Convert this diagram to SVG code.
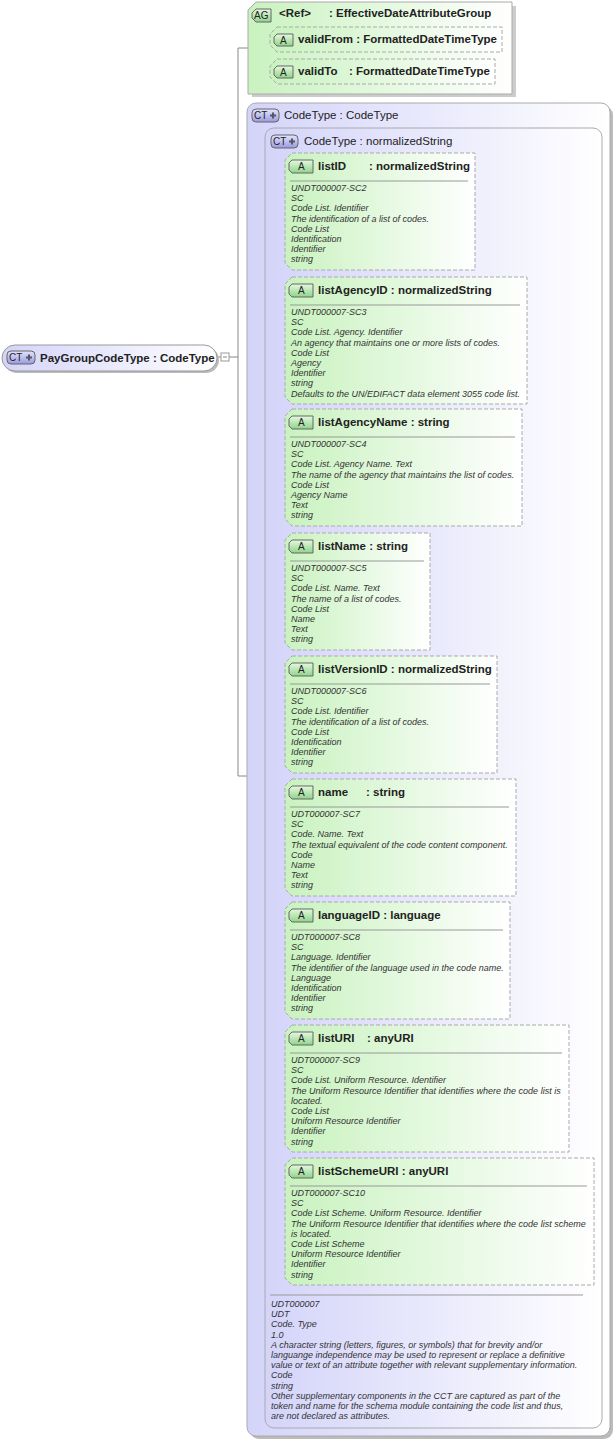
<svg xmlns="http://www.w3.org/2000/svg" width="615" height="1439" viewBox="0 0 615 1439">
<defs>
<linearGradient id="gg" x1="0" x2="1" y1="0" y2="0"><stop offset="0" stop-color="#c9f2bf"/><stop offset="1" stop-color="#ffffff"/></linearGradient>
<linearGradient id="bg" x1="0" x2="1" y1="0" y2="0"><stop offset="0" stop-color="#d4d4fa"/><stop offset="1" stop-color="#ffffff"/></linearGradient>
<linearGradient id="badgeA" x1="0" x2="0" y1="0" y2="1"><stop offset="0" stop-color="#e6f8e0"/><stop offset="1" stop-color="#8fd48a"/></linearGradient>
<linearGradient id="badgeC" x1="0" x2="0" y1="0" y2="1"><stop offset="0" stop-color="#e4e4fb"/><stop offset="1" stop-color="#9a9ae0"/></linearGradient>
</defs>
<style>
.hd{font-family:"Liberation Sans",Arial,sans-serif;font-size:11.5px;font-weight:bold;fill:#222}
.tt{font-family:"Liberation Sans",Arial,sans-serif;font-size:11.5px;fill:#222}
.ds{font-family:"Liberation Sans",Arial,sans-serif;font-size:9px;font-style:italic;fill:#333}
.bd{font-family:"Liberation Sans",Arial,sans-serif;font-size:10px;fill:#222}
.att{fill:url(#gg);stroke:#aaa;stroke-dasharray:4,2}
.sh{fill:#ccc}
.ln{stroke:#888;fill:none}
.sep{stroke:#999}
.ba{fill:url(#badgeA);stroke:#666}
.bc{fill:url(#badgeC);stroke:#666}
.pl{stroke:#556;stroke-width:2;fill:none}
</style>

<g id="connectors">
<path class="ln" d="M218,357 H238 M238,48 V776 M238,48 H257 M257,40 V72 M257,40 H270 M257,72 H270 M238,776 H285 M276,211 V1222 M276,211 H285 M276,340 H285 M276,467 H285 M276,591 H285 M276,714 H285 M276,837 H285 M276,960 H285 M276,1088 H285 M276,1222 H285"/>
</g>

<g id="root">
<rect x="4" y="347" width="215" height="26" rx="13" fill="#bbb"/>
<rect x="2" y="345" width="215" height="26" rx="13" fill="url(#bg)" stroke="#999"/>
<rect x="7" y="351" width="28" height="13" rx="4" class="bc"/>
<text x="9" y="361" class="bd">CT</text><path class="pl" d="M26,357.5 H32 M29,354.5 V360.5"/>
<text x="40" y="362" class="hd">PayGroupCodeType : CodeType</text>
<rect x="221" y="353" width="8" height="8" fill="#fff" stroke="#999"/>
<path class="ln" d="M223,357 H227"/>
</g>

<g id="ag">
<path d="M260,6 H516 V97 H252 V14 Z" class="sh"/>
<path d="M256,2 H512 V94 H248 V10 Z" fill="url(#gg)" stroke="#aaa"/>
<path d="M256,9 H271 V22 H256 L252,18 V13 Z" class="ba"/>
<text x="254" y="19" class="bd">AG</text>
<text x="279" y="17" class="hd">&lt;Ref&gt;</text><text x="329" y="17" class="hd">: EffectiveDateAttributeGroup</text>
</g>
<g id="validFrom">
<path d="M277,27 H502 V52 H277 L270,45 V34 Z" class="att"/>
<path d="M277,34 H293 V46 H277 L274,43 V37 Z" class="ba"/><text x="280" y="44" class="bd">A</text>
<text x="298" y="43" class="hd">validFrom : FormattedDateTimeType</text>
</g>
<g id="validTo">
<path d="M277,59 H495 V84 H277 L270,77 V66 Z" class="att"/>
<path d="M277,66 H293 V78 H277 L274,75 V69 Z" class="ba"/><text x="280" y="76" class="bd">A</text>
<text x="298" y="75" class="hd">validTo</text><text x="349" y="75" class="hd">: FormattedDateTimeType</text>
</g>

<g id="codeType">
<rect x="250" y="106" width="363" height="1333" rx="9" fill="#bbb"/>
<rect x="247" y="103" width="363" height="1333" rx="9" fill="url(#bg)" stroke="#aaa"/>
<rect x="252" y="109" width="27" height="13" rx="4" class="bc"/><text x="254" y="119" class="bd">CT</text><path class="pl" d="M270,115.5 H276 M273,112.5 V118.5"/>
<text x="284" y="119" class="tt">CodeType : CodeType</text>
</g>
<g id="codeTypeInner">
<rect x="265" y="128" width="337" height="1300" rx="9" fill="url(#bg)" stroke="#aaa"/>
<rect x="271" y="135" width="27" height="13" rx="4" class="bc"/><text x="273" y="145" class="bd">CT</text><path class="pl" d="M289,141.5 H295 M292,138.5 V144.5"/>
<text x="304" y="145" class="tt">CodeType : normalizedString</text>
<line x1="270" y1="1295" x2="583" y2="1295" class="sep"/>
<text class="ds" x="271"><tspan y="1307">UDT000007</tspan><tspan x="271" y="1317.2">UDT</tspan><tspan x="271" y="1327.4">Code. Type</tspan><tspan x="271" y="1337.6">1.0</tspan><tspan x="271" y="1347.8">A character string (letters, figures, or symbols) that for brevity and/or</tspan><tspan x="271" y="1358">languange independence may be used to represent or replace a definitive</tspan><tspan x="271" y="1368.2">value or text of an attribute together with relevant supplementary information.</tspan><tspan x="271" y="1378.4">Code</tspan><tspan x="271" y="1388.6">string</tspan><tspan x="271" y="1398.8">Other supplementary components in the CCT are captured as part of the</tspan><tspan x="271" y="1409">token and name for the schema module containing the code list and thus,</tspan><tspan x="271" y="1419.2">are not declared as attributes.</tspan></text>
</g>

<g id="listID">
<path d="M292,153 H475 V270 H292 L285,263 V160 Z" class="att"/>
<path d="M292,160 H313 V173 H292 L289,170 V163 Z" class="ba"/><text x="298" y="170" class="bd">A</text>
<text x="318" y="170" class="hd">listID</text><text x="369" y="170" class="hd">: normalizedString</text>
<line x1="290" y1="181" x2="468" y2="181" class="sep"/>
<text class="ds" x="291"><tspan y="191">UNDT000007-SC2</tspan><tspan x="291" y="201.2">SC</tspan><tspan x="291" y="211.4">Code List. Identifier</tspan><tspan x="291" y="221.6">The identification of a list of codes.</tspan><tspan x="291" y="231.8">Code List</tspan><tspan x="291" y="242">Identification</tspan><tspan x="291" y="252.2">Identifier</tspan><tspan x="291" y="262.4">string</tspan></text>
</g>
<g id="listAgencyID">
<path d="M292,277 H527 V404 H292 L285,397 V284 Z" class="att"/>
<path d="M292,284 H313 V297 H292 L289,294 V287 Z" class="ba"/><text x="298" y="294" class="bd">A</text>
<text x="318" y="294" class="hd">listAgencyID : normalizedString</text>
<line x1="290" y1="305" x2="520" y2="305" class="sep"/>
<text class="ds" x="291"><tspan y="315">UNDT000007-SC3</tspan><tspan x="291" y="325.2">SC</tspan><tspan x="291" y="335.4">Code List. Agency. Identifier</tspan><tspan x="291" y="345.6">An agency that maintains one or more lists of codes.</tspan><tspan x="291" y="355.8">Code List</tspan><tspan x="291" y="366">Agency</tspan><tspan x="291" y="376.2">Identifier</tspan><tspan x="291" y="386.4">string</tspan><tspan x="291" y="396.6">Defaults to the UN/EDIFACT data element 3055 code list.</tspan></text>
</g>
<g id="listAgencyName">
<path d="M292,409 H522 V526 H292 L285,519 V416 Z" class="att"/>
<path d="M292,416 H313 V429 H292 L289,426 V419 Z" class="ba"/><text x="298" y="426" class="bd">A</text>
<text x="318" y="426" class="hd">listAgencyName : string</text>
<line x1="290" y1="437" x2="515" y2="437" class="sep"/>
<text class="ds" x="291"><tspan y="447">UNDT000007-SC4</tspan><tspan x="291" y="457.2">SC</tspan><tspan x="291" y="467.4">Code List. Agency Name. Text</tspan><tspan x="291" y="477.6">The name of the agency that maintains the list of codes.</tspan><tspan x="291" y="487.8">Code List</tspan><tspan x="291" y="498">Agency Name</tspan><tspan x="291" y="508.2">Text</tspan><tspan x="291" y="518.4">string</tspan></text>
</g>
<g id="listName">
<path d="M292,533 H430 V650 H292 L285,643 V540 Z" class="att"/>
<path d="M292,540 H313 V553 H292 L289,550 V543 Z" class="ba"/><text x="298" y="550" class="bd">A</text>
<text x="318" y="550" class="hd">listName : string</text>
<line x1="290" y1="561" x2="424" y2="561" class="sep"/>
<text class="ds" x="291"><tspan y="571">UNDT000007-SC5</tspan><tspan x="291" y="581.2">SC</tspan><tspan x="291" y="591.4">Code List. Name. Text</tspan><tspan x="291" y="601.6">The name of a list of codes.</tspan><tspan x="291" y="611.8">Code List</tspan><tspan x="291" y="622">Name</tspan><tspan x="291" y="632.2">Text</tspan><tspan x="291" y="642.4">string</tspan></text>
</g>
<g id="listVersionID">
<path d="M292,656 H497 V773 H292 L285,766 V663 Z" class="att"/>
<path d="M292,663 H313 V676 H292 L289,673 V666 Z" class="ba"/><text x="298" y="673" class="bd">A</text>
<text x="318" y="673" class="hd">listVersionID : normalizedString</text>
<line x1="290" y1="684" x2="490" y2="684" class="sep"/>
<text class="ds" x="291"><tspan y="694">UNDT000007-SC6</tspan><tspan x="291" y="704.2">SC</tspan><tspan x="291" y="714.4">Code List. Identifier</tspan><tspan x="291" y="724.6">The identification of a list of codes.</tspan><tspan x="291" y="734.8">Code List</tspan><tspan x="291" y="745">Identification</tspan><tspan x="291" y="755.2">Identifier</tspan><tspan x="291" y="765.4">string</tspan></text>
</g>
<g id="name">
<path d="M292,779 H516 V896 H292 L285,889 V786 Z" class="att"/>
<path d="M292,786 H313 V799 H292 L289,796 V789 Z" class="ba"/><text x="298" y="796" class="bd">A</text>
<text x="318" y="796" class="hd">name</text><text x="366" y="796" class="hd">: string</text>
<line x1="290" y1="807" x2="509" y2="807" class="sep"/>
<text class="ds" x="291"><tspan y="817">UDT000007-SC7</tspan><tspan x="291" y="827.2">SC</tspan><tspan x="291" y="837.4">Code. Name. Text</tspan><tspan x="291" y="847.6">The textual equivalent of the code content component.</tspan><tspan x="291" y="857.8">Code</tspan><tspan x="291" y="868">Name</tspan><tspan x="291" y="878.2">Text</tspan><tspan x="291" y="888.4">string</tspan></text>
</g>
<g id="languageID">
<path d="M292,902 H510 V1019 H292 L285,1012 V909 Z" class="att"/>
<path d="M292,909 H313 V922 H292 L289,919 V912 Z" class="ba"/><text x="298" y="919" class="bd">A</text>
<text x="318" y="919" class="hd">languageID : language</text>
<line x1="290" y1="930" x2="503" y2="930" class="sep"/>
<text class="ds" x="291"><tspan y="940">UDT000007-SC8</tspan><tspan x="291" y="950.2">SC</tspan><tspan x="291" y="960.4">Language. Identifier</tspan><tspan x="291" y="970.6">The identifier of the language used in the code name.</tspan><tspan x="291" y="980.8">Language</tspan><tspan x="291" y="991">Identification</tspan><tspan x="291" y="1001.2">Identifier</tspan><tspan x="291" y="1011.4">string</tspan></text>
</g>
<g id="listURI">
<path d="M292,1025 H569 V1152 H292 L285,1145 V1032 Z" class="att"/>
<path d="M292,1032 H313 V1045 H292 L289,1042 V1035 Z" class="ba"/><text x="298" y="1042" class="bd">A</text>
<text x="318" y="1042" class="hd">listURI</text><text x="367" y="1042" class="hd">: anyURI</text>
<line x1="290" y1="1053" x2="562" y2="1053" class="sep"/>
<text class="ds" x="291"><tspan y="1063">UDT000007-SC9</tspan><tspan x="291" y="1073.2">SC</tspan><tspan x="291" y="1083.4">Code List. Uniform Resource. Identifier</tspan><tspan x="291" y="1093.6">The Uniform Resource Identifier that identifies where the code list is</tspan><tspan x="291" y="1103.8">located.</tspan><tspan x="291" y="1114">Code List</tspan><tspan x="291" y="1124.2">Uniform Resource Identifier</tspan><tspan x="291" y="1134.4">Identifier</tspan><tspan x="291" y="1144.6">string</tspan></text>
</g>
<g id="listSchemeURI">
<path d="M292,1158 H594 V1285 H292 L285,1278 V1165 Z" class="att"/>
<path d="M292,1165 H313 V1178 H292 L289,1175 V1168 Z" class="ba"/><text x="298" y="1175" class="bd">A</text>
<text x="318" y="1175" class="hd">listSchemeURI : anyURI</text>
<line x1="290" y1="1186" x2="587" y2="1186" class="sep"/>
<text class="ds" x="291"><tspan y="1196">UDT000007-SC10</tspan><tspan x="291" y="1206.2">SC</tspan><tspan x="291" y="1216.4">Code List Scheme. Uniform Resource. Identifier</tspan><tspan x="291" y="1226.6">The Uniform Resource Identifier that identifies where the code list scheme</tspan><tspan x="291" y="1236.8">is located.</tspan><tspan x="291" y="1247">Code List Scheme</tspan><tspan x="291" y="1257.2">Uniform Resource Identifier</tspan><tspan x="291" y="1267.4">Identifier</tspan><tspan x="291" y="1277.6">string</tspan></text>
</g>
</svg>
